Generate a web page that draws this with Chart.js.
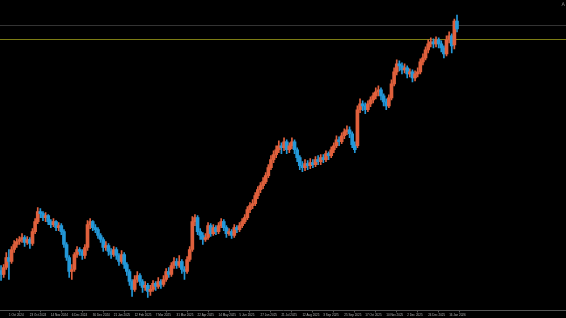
<!DOCTYPE html>
<html>
<head>
<meta charset="utf-8">
<script src="https://cdn.jsdelivr.net/npm/chart.js@4"></script>
<style>
  html, body { margin: 0; padding: 0; background: #000; }
  #wrap { width: 566px; height: 318px; position: relative; }
</style>
</head>
<body>
<div id="wrap"><canvas id="priceChart"></canvas></div>
<script>
// two-day candles, price in chart units (no price scale is visible)
const opens = [40,36,43,53,49,61,66,69,71,73,68,71,67,79,89,99,97,93,95,89,
  86,89,83,85,79,66,53,39,41,56,61,59,55,63,86,89,83,81,75,71,
  63,65,59,56,61,55,49,56,46,39,29,21,31,35,29,23,25,19,21,27,
  24,29,26,31,39,36,45,49,45,49,41,39,51,61,89,93,79,75,71,73,
  85,77,83,79,85,89,83,77,79,75,83,81,85,89,93,101,105,107,115,121,
  125,129,135,143,151,156,161,165,163,169,161,165,169,161,153,145,143,147,145,148,
  146,151,149,153,151,157,155,161,165,171,169,175,179,181,177,166,165,201,207,205,
  201,207,211,215,219,221,215,209,205,213,227,239,247,245,241,243,237,239,233,237,
  239,249,253,261,267,269,267,271,267,263,257,271,275,266,290];
const highs = [45,46,58,61,64,70,72,74,77,75,74,73,82,92,103,102,99,98,96,91,
  92,90,88,87,81,68,55,46,58,64,63,61,66,90,92,90,86,83,77,73,
  69,67,62,64,63,57,60,58,48,41,31,35,39,37,31,29,27,25,30,29,
  33,31,35,42,43,48,53,52,55,51,44,54,64,94,96,95,82,78,77,88,
  87,86,85,88,92,91,85,82,81,86,85,88,92,96,104,108,111,118,124,128,
  133,138,146,155,160,165,170,168,173,171,168,173,171,163,155,149,151,150,152,151,
  154,155,156,156,160,159,164,168,175,174,178,182,185,184,179,169,205,212,210,208,
  210,214,218,223,225,223,217,212,216,231,243,251,250,248,247,245,242,241,240,243,
  252,257,264,271,273,272,274,273,270,265,275,279,277,292,296];
const lows = [30,33,41,31,47,58,63,66,68,64,66,62,65,77,87,93,90,89,86,83,
  84,80,80,76,63,50,33,31,39,53,55,51,52,60,82,80,78,72,68,59,
  60,55,52,54,51,45,47,42,35,25,14,19,28,25,18,20,13,15,19,20,
  22,22,24,29,33,34,42,42,43,37,31,37,49,59,85,76,71,66,69,71,
  74,75,76,77,83,80,73,75,72,73,78,79,83,87,91,98,102,105,112,118,
  122,127,133,141,148,153,158,157,160,157,158,162,157,149,141,139,140,141,142,143,
  144,146,146,148,149,151,153,158,163,165,167,172,176,173,163,158,163,198,200,197,
  199,204,208,212,215,211,205,201,203,211,225,236,240,237,238,233,234,229,230,234,
  237,246,251,258,264,263,264,263,259,253,255,268,258,262,279];
const closes = [36,43,53,49,61,66,69,71,73,68,71,67,79,89,99,97,93,95,89,86,
  89,83,85,79,66,53,39,41,56,61,59,55,63,86,89,83,81,75,71,63,
  65,59,56,61,55,49,56,46,39,29,21,31,35,29,23,25,19,21,27,24,
  29,26,31,39,36,45,49,45,49,41,39,51,61,89,93,79,75,71,73,85,
  77,83,79,85,89,83,77,79,75,83,81,85,89,93,101,105,107,115,121,125,
  129,135,143,151,156,161,165,163,169,161,165,169,161,153,145,143,147,145,148,146,
  151,149,153,151,157,155,161,165,171,169,175,179,181,177,166,161,201,207,205,201,
  207,211,215,219,221,215,209,205,213,227,239,247,245,241,243,237,239,233,237,239,
  249,253,261,267,269,267,271,267,263,257,271,275,265,290,282];

// date labels on the time axis, one every 8 candles
const tickIndex = [3,11,19,27,35,43,51,59,67,75,83,91,99,107,115,123,131,139,147,155,163,171];
const tickLabels = ["1 Oct 2024","23 Oct 2024","14 Nov 2024","6 Dec 2024",
  "30 Dec 2024","21 Jan 2025","12 Feb 2025","7 Mar 2025","31 Mar 2025","22 Apr 2025",
  "14 May 2025","5 Jun 2025","27 Jun 2025","21 Jul 2025","12 Aug 2025","3 Sep 2025",
  "25 Sep 2025","17 Oct 2025","10 Nov 2025","2 Dec 2025","24 Dec 2025","16 Jan 2026"];

// horizontal levels: grey line, olive line
const levels = [286, 272];
const levelColors = ["#333333", "#7c7c14"];

const UP = "#e0603c";
const DOWN = "#2398d8";

const colors = closes.map((c, i) => (c >= opens[i] ? UP : DOWN));
const wicks = closes.map((c, i) => ({ x: i, y: [lows[i], highs[i]] }));
const bodies = closes.map((c, i) => ({ x: i, y: [opens[i], c] }));

const levelLines = {
  id: "levelLines",
  beforeDatasetsDraw(chart) {
    const { ctx, chartArea, scales } = chart;
    ctx.save();
    levels.forEach((lv, k) => {
      const y = Math.round(scales.y.getPixelForValue(lv)) + 0.5;
      ctx.strokeStyle = levelColors[k];
      ctx.lineWidth = 1;
      ctx.beginPath();
      ctx.moveTo(chartArea.left, y);
      ctx.lineTo(chartArea.right, y);
      ctx.stroke();
    });
    ctx.fillStyle = "#8a8a8a";
    ctx.font = "5px 'DejaVu Sans'";
    ctx.textAlign = "right";
    ctx.textBaseline = "top";
    ctx.fillText("A", chartArea.right - 1, 2);
    ctx.restore();
  },
};

new Chart(document.getElementById("priceChart"), {
  type: "bar",
  data: {
    datasets: [
      {
        data: wicks,
        backgroundColor: colors,
        barThickness: 1,
        grouped: false,
        order: 2,
      },
      {
        data: bodies,
        backgroundColor: colors,
        barThickness: 3,
        minBarLength: 1,
        grouped: false,
        order: 1,
      },
    ],
  },
  options: {
    responsive: true,
    maintainAspectRatio: false,
    animation: false,
    layout: { padding: 0 },
    plugins: {
      legend: { display: false },
      tooltip: { enabled: false },
    },
    scales: {
      x: {
        type: "linear",
        min: -0.4,
        max: 215.6,
        offset: false,
        afterBuildTicks: (axis) => {
          axis.ticks = tickIndex.map((v) => ({ value: v }));
        },
        grid: {
          display: true,
          drawOnChartArea: false,
          drawTicks: true,
          tickLength: 2,
          color: "#555555",
        },
        border: { display: true, color: "#555555" },
        ticks: {
          autoSkip: false,
          maxRotation: 0,
          minRotation: 0,
          align: "start",
          padding: 1,
          color: "#b4b4b4",
          font: { size: 3, family: "'Liberation Sans'" },
          callback: (value) => {
            const k = tickIndex.indexOf(value);
            return k >= 0 ? tickLabels[k] : "";
          },
        },
      },
      y: {
        display: false,
        min: 0,
        max: 311,
      },
    },
  },
  plugins: [levelLines],
});
</script>
</body>
</html>
